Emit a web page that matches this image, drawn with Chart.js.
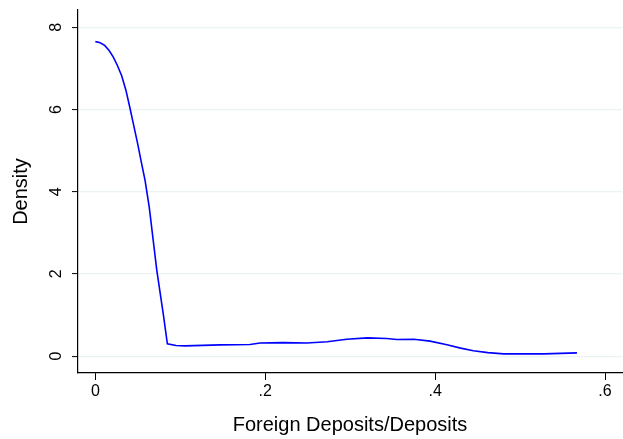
<!DOCTYPE html>
<html>
<head>
<meta charset="utf-8">
<script src="https://cdn.jsdelivr.net/npm/chart.js@4.4.1/dist/chart.umd.min.js"></script>
<style>
  html, body { margin: 0; padding: 0; background: #fff; }
  #wrap { width: 623px; height: 439px; }
</style>
</head>
<body>
<div id="wrap"><canvas id="kdens"></canvas></div>
<script>
// ============================= data

const xVals = [0, 0.005, 0.011, 0.016, 0.021, 0.026, 0.031, 0.036, 0.0405, 0.045, 0.050, 0.054, 0.0585,
               0.0635, 0.0723, 0.080, 0.0848, 0.095, 0.1057, 0.147, 0.182, 0.194, 0.221, 0.249, 0.273,
               0.296, 0.320, 0.343, 0.355, 0.375, 0.394, 0.414, 0.430, 0.445, 0.462, 0.4806, 0.528, 0.567]
const density = [7.65, 7.63, 7.56, 7.44, 7.28, 7.07, 6.82, 6.47, 6.06, 5.63, 5.15, 4.73, 4.28,
                 3.62, 2.10, 1.02, 0.30, 0.26, 0.25, 0.275, 0.285, 0.32, 0.33, 0.32, 0.35,
                 0.41, 0.445, 0.43, 0.405, 0.41, 0.365, 0.275, 0.195, 0.13, 0.085, 0.056, 0.056, 0.08]
const yTicks = [0, 2, 4, 6, 8]
const xTicks = [0, 0.2, 0.4, 0.6]
const xTitle = 'Foreign Deposits/Deposits'
const yTitle = 'Density'

const FONT = 'Liberation Sans, Arial, sans-serif'
const fmt = v => v === 0 ? '0' : String(v).replace(/^0/, '')

// draws the rotated y labels and both axis titles
const textPlugin = {
    id: 'stataText',
    afterDraw(chart) {
        const ctx = chart.ctx
        const y = chart.scales.y
        const area = chart.chartArea
        ctx.save()
        ctx.fillStyle = '#000'
        ctx.textAlign = 'center'
        ctx.textBaseline = 'middle'
        ctx.font = '16px ' + FONT
        yTicks.forEach(t => {
            ctx.save()
            ctx.translate(57, y.getPixelForValue(t))
            ctx.rotate(-Math.PI / 2)
            ctx.fillText(fmt(t), 0, 0)
            ctx.restore()
        })
        ctx.font = '20px ' + FONT
        ctx.fillText(xTitle, (area.left + area.right) / 2, 425)
        ctx.save()
        ctx.translate(21, (area.top + area.bottom) / 2)
        ctx.rotate(-Math.PI / 2)
        ctx.fillText(yTitle, 0, 0)
        ctx.restore()
        ctx.restore()
    }
}

new Chart(document.getElementById('kdens'), {
    type: 'line',
    data: {
        datasets: [{
            data: xVals.map((x, i) => ({ x: x, y: density[i] })),
            borderColor: '#0000ff',
            borderWidth: 1.6,
            pointRadius: 0,
            fill: false,
            tension: 0
        }]
    },
    options: {
        responsive: true,
        maintainAspectRatio: false,
        animation: false,
        layout: { padding: { top: 10, right: 1, left: 0, bottom: 0 } },
        plugins: { legend: { display: false }, tooltip: { enabled: false } },
        scales: {
            x: {
                type: 'linear',
                min: -0.0204,
                max: 0.620,
                afterBuildTicks: s => { s.ticks = xTicks.map(v => ({ value: v })) },
                afterFit: s => { s.height = 66 },
                grid: { drawOnChartArea: false, tickLength: 7, tickColor: '#000', tickWidth: 1 },
                border: { color: '#000', width: 1.2 },
                ticks: {
                    color: '#000',
                    font: { family: FONT, size: 16 },
                    padding: 2,
                    maxRotation: 0,
                    callback: v => fmt(v)
                }
            },
            y: {
                type: 'linear',
                min: -0.41,
                max: 8.42,
                afterBuildTicks: s => { s.ticks = yTicks.map(v => ({ value: v })) },
                afterFit: s => { s.width = 78 },
                grid: { color: '#eaf2f3', lineWidth: 1.2, tickLength: 6, tickColor: '#000', tickWidth: 1 },
                border: { color: '#000', width: 1.2 },
                ticks: { display: false }
            }
        }
    },
    plugins: [textPlugin]
})
</script>
</body>
</html>
